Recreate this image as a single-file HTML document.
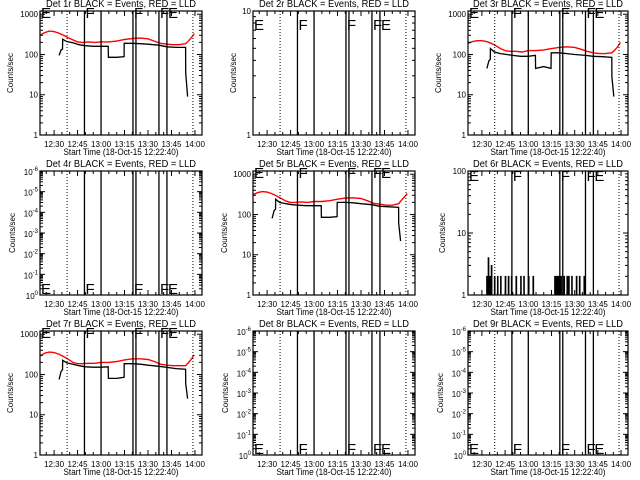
<!DOCTYPE html>
<html><head><meta charset="utf-8"><style>
html,body{margin:0;padding:0;background:#fff;}
svg{display:block;font-family:"Liberation Sans",sans-serif;}
</style></head><body>
<svg id="chart" width="640" height="480" viewBox="0 0 640 480" xmlns="http://www.w3.org/2000/svg">
<rect width="640" height="480" fill="#fff"/>
</svg>
<script>
// ---- data (minutes relative to 12:30) ----
const xTickTimes = [0, 15, 30, 45, 60, 75, 90];
const xTickLabels = ['12:30', '12:45', '13:00', '13:15', '13:30', '13:45', '14:00'];
const solidMarkers = [19.4, 30.0, 50.4, 52.3, 67.0, 72.1];
const dottedMarkers = [8.3, 88.7];
const letterTimes = [-9, 19.4, 50.4, 67.0, 72.1];
const letterText = ['E', 'F', 'F', 'F', 'E'];

const redTimes = [-9,-6,-3,0,3,6,9,12,15,18,22,26,30,35,40,45,50,55,60,64,68,72,76,80,84,86,88,89.6];
const red1 = [300,350,380,370,340,300,260,230,205,200,205,200,205,205,215,235,250,255,245,215,190,180,175,175,185,220,270,330];
const red3 = [190,210,220,220,210,190,165,140,125,120,120,115,125,125,130,140,150,155,150,135,120,110,105,105,110,130,160,200];
const red5 = [310,350,370,360,330,290,250,215,200,200,205,200,210,210,220,240,255,260,250,220,190,180,170,170,185,230,280,330];
const red7 = [290,340,360,350,320,280,240,200,185,185,190,190,200,200,210,230,245,245,235,210,180,170,165,165,165,200,250,310];

const blackTimes = [3.2,4.5,5.4,5.5,8,12,16,20,25,30,34.6,34.7,40,44.7,44.8,50,55,60,67,72,78,84,84.1,85.3];
const black1 = [95,130,135,240,210,195,175,165,160,160,160,85,85,88,190,190,185,180,170,155,150,150,35,9];
const black3 = [45,70,75,140,115,105,100,95,90,90,95,45,50,45,110,110,105,100,95,90,88,85,28,9];
const black5 = [80,125,135,240,200,185,175,170,165,165,165,85,85,88,200,200,195,185,175,160,155,150,60,22];
const black7 = [75,120,130,225,195,180,165,155,152,152,155,80,80,85,185,185,180,170,160,150,140,135,60,25];

const spikeStart = 3;
const spikeStep = 1;
const spikes6 = [2,4,2,3,1,2,
 1,2,1,2,1,1,2,1,2,1,2,1,1,2,1,1,2,1,2,1,1,2,1,1,2,1,1,
 1,1,1,1,1,1,1,1,1,1,1,
 2,2,2,2,2,
 1,2,1,2,2,1,2,1,1,2,1,2,1,1,2,1];

// ---- layout ----
const colLeft = [40, 253, 468];
const colWidth = [162, 162, 160];
const rowTop = [11, 171, 331];
const boxH = 124;
const tMin = -9, tMax = 94.5;
const NS = 'http://www.w3.org/2000/svg';
const svg = document.getElementById('chart');

function el(tag, attrs, parent) {
  const e = document.createElementNS(NS, tag);
  for (const k in attrs) e.setAttribute(k, attrs[k]);
  (parent || svg).appendChild(e);
  return e;
}

const panels = [
  {n:1, c:0, r:0, y:'std', red:red1, black:black1, ly:7, lab:27},
  {n:2, c:1, r:0, y:'p2', ly:19, lab:17},
  {n:3, c:2, r:0, y:'std', red:red3, black:black3, ly:7, lab:27},
  {n:4, c:0, r:1, y:'empty', ly:123, lab:25},
  {n:5, c:1, r:1, y:'std', red:red5, black:black5, ly:7, lab:26},
  {n:6, c:2, r:1, y:'p6', spikes:spikes6, ly:10, lab:23},
  {n:7, c:0, r:2, y:'std', red:red7, black:black7, ly:7, lab:27},
  {n:8, c:1, r:2, y:'empty', ly:123, lab:25},
  {n:9, c:2, r:2, y:'empty', ly:123, lab:25}
];

function drawPanel(p) {
  const L = colLeft[p.c], W = colWidth[p.c], T = rowTop[p.r], B = T + boxH, R = L + W;
  const g = el('g', {});
  
  
  const xs = t => L + (t - tMin) / (tMax - tMin) * W;
  let lmin = 0, lmax = 3.08;
  if (p.y === 'p2') lmax = 1;
  if (p.y === 'p6') lmax = 2;
  if (p.y === 'empty') lmax = 6;
  const ys = v => B - (Math.log10(v) - lmin) / (lmax - lmin) * boxH;
  const yl = l => B - (l - lmin) / (lmax - lmin) * boxH;

  const title = el('text', {x: L + W/2, y: T - 4, 'text-anchor':'middle', 'font-size':10, textLength:150, lengthAdjust:'spacingAndGlyphs'}, g);
  title.textContent = 'Det ' + p.n + 'r BLACK = Events, RED = LLD';
  
  

  const cid = 'clip' + p.n;
  const cp = el('clipPath', {id: cid}, g);
  el('rect', {x: L, y: T - 8, width: W, height: boxH + 8}, cp);
  const plot = el('g', {'clip-path': 'url(#' + cid + ')'}, g);

  if (p.red) {
    const pts = redTimes.map((t, i) => xs(t).toFixed(1) + ',' + ys(p.red[i]).toFixed(1)).join(' ');
    const pl = el('polyline', {points: pts, fill:'none', stroke:'#ff0000', 'stroke-width':1.4}, plot);
    
    
  }
  if (p.black) {
    const pts = blackTimes.map((t, i) => xs(t).toFixed(1) + ',' + ys(p.black[i]).toFixed(1)).join(' ');
    const pl = el('polyline', {points: pts, fill:'none', stroke:'#000', 'stroke-width':1.3}, plot);
    
    
  }
  if (p.spikes) {
    let d = '';
    p.spikes.forEach((v, i) => {
      if (v <= 1) return;
      const t = spikeStart + i * spikeStep;
      const x0 = xs(t), x1 = xs(t + spikeStep * 0.5), y = ys(v);
      d += 'M' + x0.toFixed(1) + ',' + B + 'V' + y.toFixed(1) + 'H' + x1.toFixed(1) + 'V' + B;
    });
    const sp = el('path', {d: d, fill:'none', stroke:'#000', 'stroke-width':0.9}, plot);
    
    
  }

  solidMarkers.forEach(t => {
    const ln = el('line', {x1: xs(t), x2: xs(t), y1: T, y2: B, stroke:'#000', 'stroke-width':1.3}, g);
    
    
  });
  dottedMarkers.forEach(t => {
    const ln = el('line', {x1: xs(t), x2: xs(t), y1: T, y2: B, stroke:'#000', 'stroke-width':1, 'stroke-dasharray':'1,2'}, g);
    
    
  });
  letterTimes.forEach((t, i) => {
    const tx = el('text', {x: xs(t) + 1, y: T + p.ly, 'font-size':15}, g);
    tx.textContent = letterText[i];
    
    
  });

  const box = el('rect', {x: L, y: T, width: W, height: boxH, fill:'none', stroke:'#000', 'stroke-width':1.2}, g);
  
  

  for (let t = -5; t <= 90; t += 5) {
    const x = xs(t), len = (t % 15 === 0) ? 5 : 3;
    el('line', {x1:x, x2:x, y1:B, y2:B - len, stroke:'#000'}, g);
    el('line', {x1:x, x2:x, y1:T, y2:T + len, stroke:'#000'}, g);
  }
  xTickTimes.forEach((t, i) => {
    const tx = el('text', {x: xs(t), y: B + 12, 'text-anchor':'middle', 'font-size':8}, g);
    tx.textContent = xTickLabels[i];
    
    
  });
  const xt = el('text', {x: L + W/2, y: B + 20, 'text-anchor':'middle', 'font-size':9, textLength:115, lengthAdjust:'spacingAndGlyphs'}, g);
  xt.textContent = 'Start Time (18-Oct-15 12:22:40)';
  
  

  const nDec = (p.y === 'empty') ? 6 : Math.floor(lmax + 1e-9);
  for (let d = 0; d <= nDec; d++) {
    const y = yl(d);
    el('line', {x1:L, x2:L + 5, y1:y, y2:y, stroke:'#000'}, g);
    el('line', {x1:R, x2:R - 5, y1:y, y2:y, stroke:'#000'}, g);
    const lbl = el('text', {x: L - 2, y: y + 3, 'text-anchor':'end', 'font-size':8}, g);
    
    
    if (p.y === 'empty') {
      lbl.setAttribute('y', y + 4);
      lbl.textContent = '10';
      const sup = el('tspan', {'font-size':6, dy:-4}, lbl);
      sup.textContent = d === 0 ? '0' : '-' + d;
    } else {
      lbl.textContent = String(Math.pow(10, d));
    }
    if (d < lmax - 1e-9) {
      for (let m = 2; m <= 9; m++) {
        const lv = d + Math.log10(m);
        if (lv > lmax) break;
        const ym = yl(lv);
        el('line', {x1:L, x2:L + 3, y1:ym, y2:ym, stroke:'#000'}, g);
        el('line', {x1:R, x2:R - 3, y1:ym, y2:ym, stroke:'#000'}, g);
      }
    }
  }
  const cy = T + boxH/2;
  const yt = el('text', {x: L - p.lab, y: cy, 'text-anchor':'middle', 'font-size':8, transform:'rotate(-90 ' + (L - p.lab) + ' ' + cy + ')'}, g);
  yt.textContent = 'Counts/sec';
  
  
}

panels.forEach(drawPanel);
</script>
</body></html>
